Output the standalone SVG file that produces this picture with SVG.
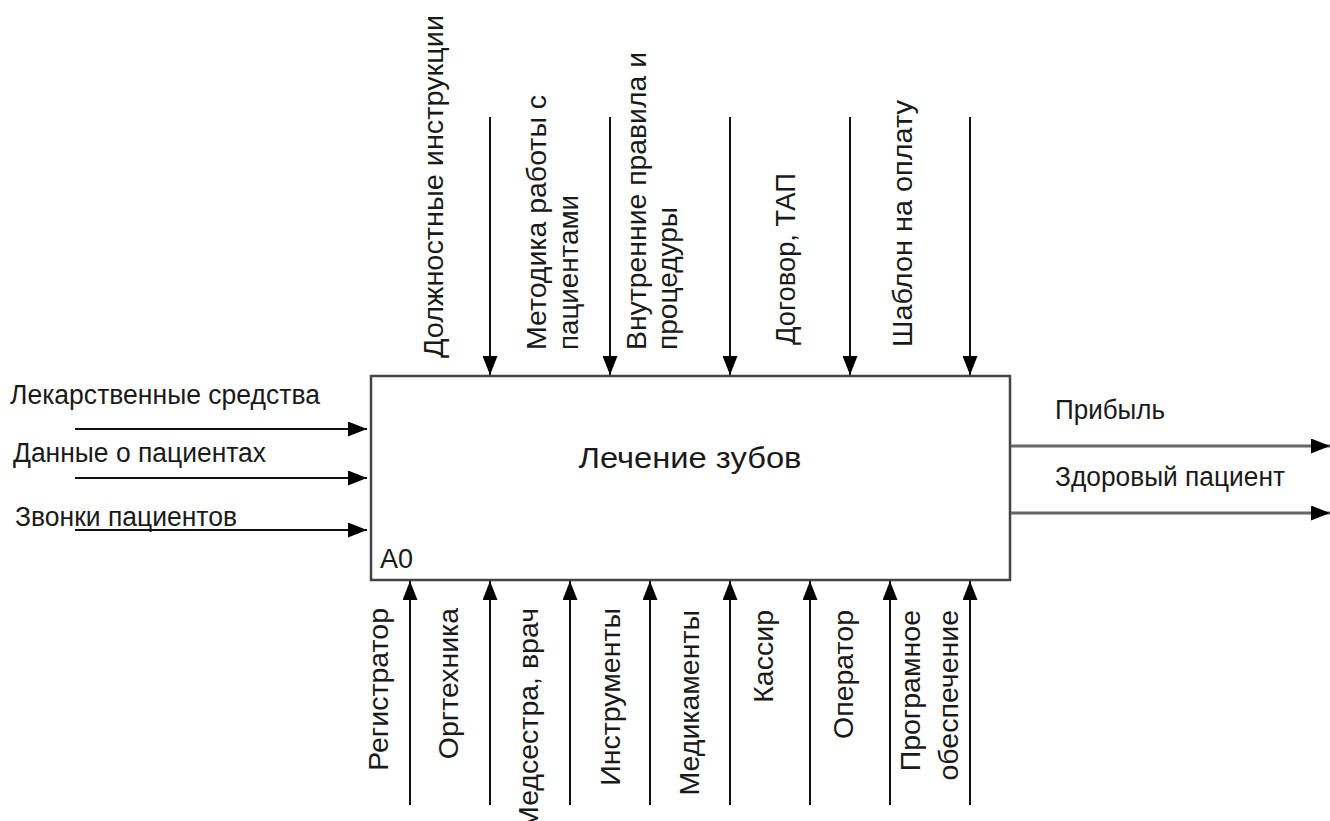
<svg xmlns="http://www.w3.org/2000/svg" width="1330" height="821" viewBox="0 0 1330 821">
  <defs>
    <style>
      .lbl { font-family: "Liberation Sans", Arial, sans-serif; font-size: 27px; fill: #1a1a1a; }
      .mech { font-size: 28.5px; }
      .title { font-family: "Liberation Sans", Arial, sans-serif; font-size: 30px; fill: #1a1a1a; }
      .box { fill: #fff; stroke: #444; stroke-width: 2.5; }
      .arrow { fill: none; stroke: #111; stroke-width: 2; }
      .out { fill: none; stroke: #666; stroke-width: 3; }
    </style>
    <marker id="head" viewBox="0 0 19 15" refX="19" refY="7.5" markerWidth="19" markerHeight="15" markerUnits="userSpaceOnUse" orient="auto">
      <path d="M0,0 L19,7.5 L0,15 z" fill="#000"/>
    </marker>
  </defs>
  <rect width="1330" height="821" fill="#fff"/>

  <!-- activity A0 -->
  <g id="node-a0">
    <rect class="box" x="371" y="376" width="639" height="204"/>
    <text class="title" x="690" y="468" text-anchor="middle" textLength="223" lengthAdjust="spacingAndGlyphs">Лечение зубов</text>
    <text class="lbl" x="380" y="568">A0</text>
  </g>

  <!-- arrows: inputs, outputs, controls, mechanisms -->
  <g id="connectors">
    <line class="arrow" x1="75" y1="429" x2="367" y2="429" marker-end="url(#head)"/>
    <line class="arrow" x1="75" y1="478" x2="367" y2="478" marker-end="url(#head)"/>
    <line class="arrow" x1="75" y1="530" x2="367" y2="530" marker-end="url(#head)"/>

    <line class="out" x1="1011" y1="446" x2="1330" y2="446" marker-end="url(#head)"/>
    <line class="out" x1="1011" y1="513" x2="1330" y2="513" marker-end="url(#head)"/>

    <line class="arrow" x1="490" y1="117" x2="490" y2="375" marker-end="url(#head)"/>
    <line class="arrow" x1="610" y1="117" x2="610" y2="375" marker-end="url(#head)"/>
    <line class="arrow" x1="730" y1="117" x2="730" y2="375" marker-end="url(#head)"/>
    <line class="arrow" x1="850" y1="117" x2="850" y2="375" marker-end="url(#head)"/>
    <line class="arrow" x1="970" y1="117" x2="970" y2="375" marker-end="url(#head)"/>

    <line class="arrow" x1="410" y1="805" x2="410" y2="581" marker-end="url(#head)"/>
    <line class="arrow" x1="490" y1="805" x2="490" y2="581" marker-end="url(#head)"/>
    <line class="arrow" x1="570" y1="805" x2="570" y2="581" marker-end="url(#head)"/>
    <line class="arrow" x1="650" y1="805" x2="650" y2="581" marker-end="url(#head)"/>
    <line class="arrow" x1="730" y1="805" x2="730" y2="581" marker-end="url(#head)"/>
    <line class="arrow" x1="810" y1="805" x2="810" y2="581" marker-end="url(#head)"/>
    <line class="arrow" x1="890" y1="805" x2="890" y2="581" marker-end="url(#head)"/>
    <line class="arrow" x1="970" y1="805" x2="970" y2="581" marker-end="url(#head)"/>
  </g>

  <!-- input labels -->
  <g id="inputs">
    <text class="lbl" x="10" y="404" textLength="310" lengthAdjust="spacingAndGlyphs">Лекарственные средства</text>
    <text class="lbl" x="13" y="462" textLength="253" lengthAdjust="spacingAndGlyphs">Данные о пациентах</text>
    <text class="lbl" x="15" y="526" textLength="222" lengthAdjust="spacingAndGlyphs">Звонки пациентов</text>
  </g>

  <!-- output labels -->
  <g id="outputs">
    <text class="lbl" x="1055" y="419" textLength="110" lengthAdjust="spacingAndGlyphs">Прибыль</text>
    <text class="lbl" x="1055" y="486" textLength="230" lengthAdjust="spacingAndGlyphs">Здоровый пациент</text>
  </g>

  <!-- control labels -->
  <g id="controls">
    <text class="lbl" transform="translate(443,358) rotate(-90)" textLength="343" lengthAdjust="spacingAndGlyphs">Должностные инструкции</text>
    <text class="lbl" transform="translate(546,350) rotate(-90)" textLength="255" lengthAdjust="spacingAndGlyphs">Методика работы с</text>
    <text class="lbl" transform="translate(578,350) rotate(-90)" textLength="155" lengthAdjust="spacingAndGlyphs">пациентами</text>
    <text class="lbl" transform="translate(646,350) rotate(-90)" textLength="298" lengthAdjust="spacingAndGlyphs">Внутренние правила и</text>
    <text class="lbl" transform="translate(677,350) rotate(-90)" textLength="143" lengthAdjust="spacingAndGlyphs">процедуры</text>
    <text class="lbl" transform="translate(795,345) rotate(-90)" textLength="172" lengthAdjust="spacingAndGlyphs">Договор, ТАП</text>
    <text class="lbl" transform="translate(912,347) rotate(-90)" textLength="247" lengthAdjust="spacingAndGlyphs">Шаблон на оплату</text>
  </g>

  <!-- mechanism labels -->
  <g id="mechanisms" text-anchor="end">
    <text class="lbl mech" transform="translate(388,608) rotate(-90)">Регистратор</text>
    <text class="lbl mech" transform="translate(458,608) rotate(-90)">Оргтехника</text>
    <text class="lbl mech" transform="translate(538,608) rotate(-90)">Медсестра, врач</text>
    <text class="lbl mech" transform="translate(620,608) rotate(-90)">Инструменты</text>
    <text class="lbl mech" transform="translate(699,610) rotate(-90)">Медикаменты</text>
    <text class="lbl mech" transform="translate(773,610) rotate(-90)">Кассир</text>
    <text class="lbl mech" transform="translate(853,610) rotate(-90)">Оператор</text>
    <text class="lbl mech" transform="translate(920,610) rotate(-90)">Програмное</text>
    <text class="lbl mech" transform="translate(958,610) rotate(-90)">обеспечение</text>
  </g>
</svg>
